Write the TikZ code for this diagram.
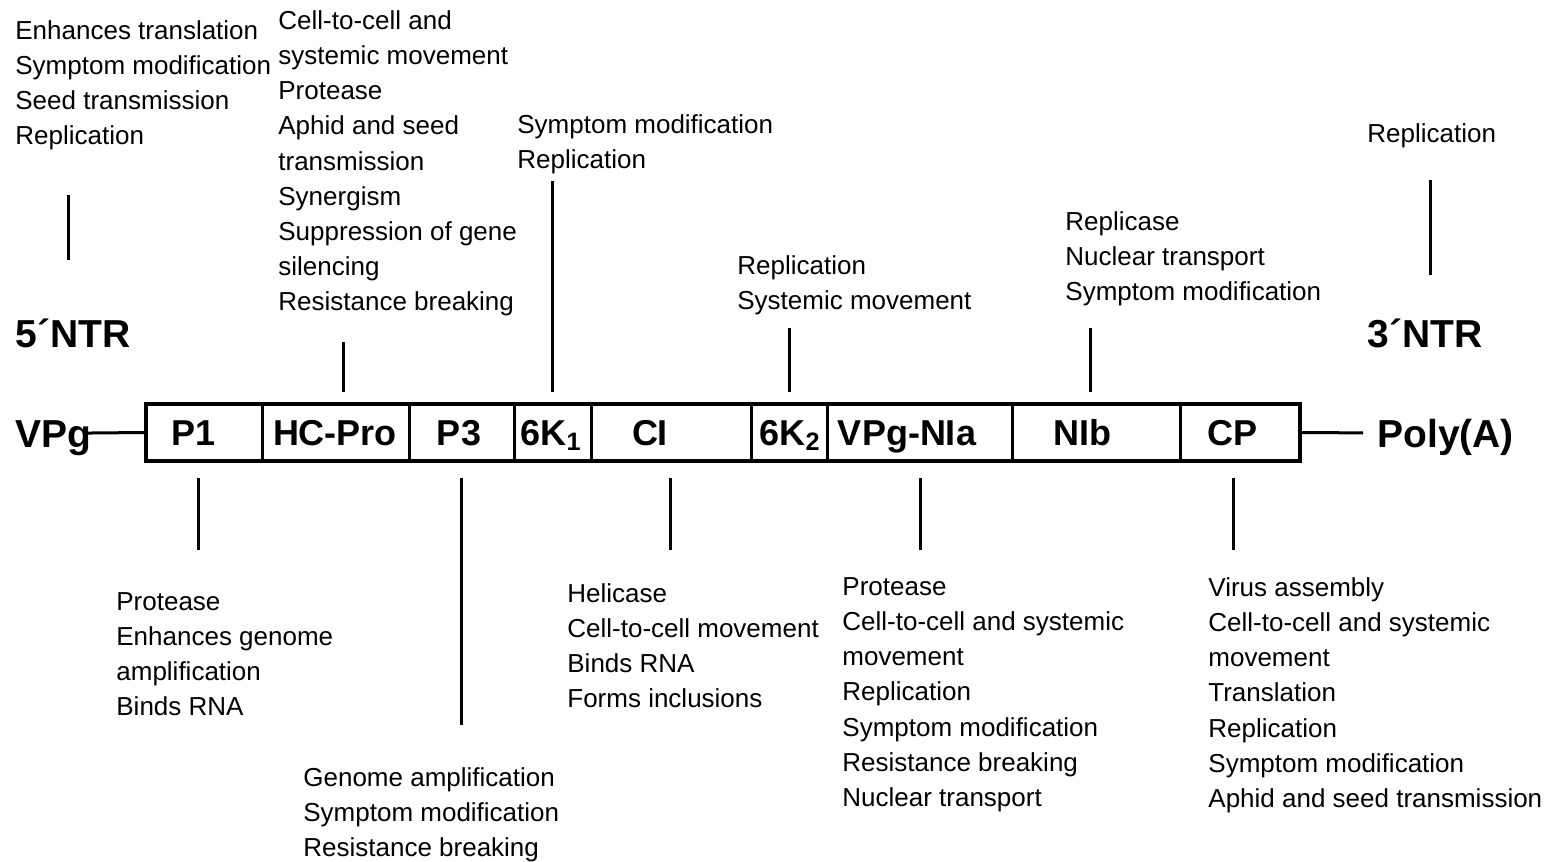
\documentclass[tikz,border=0pt]{standalone}
\usepackage{fontspec}
\setmainfont{Liberation Sans}

\tikzset{
	func/.style={anchor=north west, inner sep=0pt, align=left, font=\fontsize{13}{17.6}\selectfont},
	gene/.style={inner sep=0pt, text height=13pt, text depth=0pt, font=\fontsize{18}{20}\selectfont\bfseries},
	ends/.style={gene, anchor=west, text height=14pt, font=\fontsize{19.5}{22}\selectfont\bfseries},
	stem/.style={line width=1.5pt},
}

\begin{document}
\begin{tikzpicture}[x=0.5pt,y=-0.5pt]
	\useasboundingbox (0,0) rectangle (1553,862);
	% genome box and cleavage sites
	\node[draw, line width=2pt, minimum width=577pt, minimum height=28.5pt, inner sep=0pt] (genome) at (723,432.5) {};
	\foreach \x in {262,409,514,591,751,827,1012,1180}
		\draw[stem] (\x,404) -- (\x,461);
	% proteins
	\node[gene] (p1) at (194,432) {P1};
	\node[gene] (hcpro) at (335,432) {HC-Pro};
	\node[gene] (p3) at (459,432) {P3};
	\node[gene] (k1) at (551,432) {6K\textsubscript{1}};
	\node[gene] (ci) at (650,432) {CI};
	\node[gene] (k2) at (790,432) {6K\textsubscript{2}};
	\node[gene] (nia) at (907,432) {VPg-NIa};
	\node[gene] (nib) at (1082,432) {NIb};
	\node[gene] (cp) at (1232,432) {CP};
	% ends
	\node[ends] (vpg) at (15,433) {VPg};
	\node[ends] (polya) at (1377,433) {Poly(A)};
	\node[ends] (ntr5) at (15,333) {5´NTR};
	\node[ends] (ntr3) at (1367,333) {3´NTR};
	\draw[stem, shorten <=-2pt] (vpg.east) -- (genome.west);
	\draw[stem, shorten >=7pt] (genome.east) -- (polya.west);
	% functions above
	\node[func] (f5) at (15,20) {Enhances translation\\Symptom modification\\Seed transmission\\Replication};
	\node[func] (fhc) at (278,10) {Cell-to-cell and\\systemic movement\\Protease\\Aphid and seed\\transmission\\Synergism\\Suppression of gene\\silencing\\Resistance breaking};
	\node[func] (fk1) at (517,114) {Symptom modification\\Replication};
	\node[func] (fk2) at (737,255) {Replication\\Systemic movement};
	\node[func] (fnib) at (1065,211) {Replicase\\Nuclear transport\\Symptom modification};
	\node[func] (f3) at (1367,123) {Replication};
	% functions below
	\node[func] (fp1) at (116,592) {Protease\\Enhances genome\\amplification\\Binds RNA};
	\node[func] (fp3) at (303,767) {Genome amplification\\Symptom modification\\Resistance breaking};
	\node[func] (fci) at (567,583) {Helicase\\Cell-to-cell movement\\Binds RNA\\Forms inclusions};
	\node[func] (fnia) at (842,577) {Protease\\Cell-to-cell and systemic\\movement\\Replication\\Symptom modification\\Resistance breaking\\Nuclear transport};
	\node[func] (fcp) at (1208,577) {Virus assembly\\Cell-to-cell and systemic\\movement\\Translation\\Replication\\Symptom modification\\Aphid and seed transmission};
	% stems
	\draw[stem] (68,195) -- (68,260);
	\draw[stem] (1430,180) -- (1430,275);
	\draw[stem] (343,342) -- (343,392);
	\draw[stem] (552,181) -- (552,392);
	\draw[stem] (789,328) -- (789,392);
	\draw[stem] (1090,328) -- (1090,392);
	\draw[stem] (198,478) -- (198,550);
	\draw[stem] (461,478) -- (461,725);
	\draw[stem] (670,478) -- (670,550);
	\draw[stem] (920,478) -- (920,550);
	\draw[stem] (1233,478) -- (1233,550);
\end{tikzpicture}
\end{document}
